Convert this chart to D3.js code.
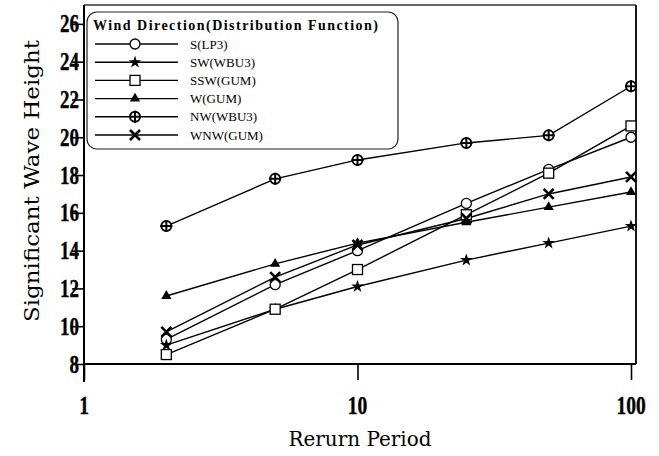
<!DOCTYPE html>
<html><head><meta charset="utf-8">
<script src="https://d3js.org/d3.v7.min.js"></script>
<style>body{margin:0;background:#fff}svg{display:block}</style>
</head><body>
<svg id="c" width="659" height="456"></svg>
<script>
const periods = [2, 5, 10, 25, 50, 100];
const seriesNames = ["S(LP3)", "SW(WBU3)", "SSW(GUM)", "W(GUM)", "NW(WBU3)", "WNW(GUM)"];
const sVals   = [9.3, 12.2, 14.0, 16.5, 18.3, 20.0];
const swVals  = [9.0, 10.9, 12.1, 13.5, 14.4, 15.3];
const sswVals = [8.5, 10.9, 13.0, 15.9, 18.1, 20.6];
const wVals   = [11.6, 13.3, 14.4, 15.5, 16.3, 17.1];
const nwVals  = [15.3, 17.8, 18.8, 19.7, 20.1, 22.7];
const wnwVals = [9.7, 12.6, 14.3, 15.7, 17.0, 17.9];
const xTicks = [1, 10, 100];
const yTicks = [8, 10, 12, 14, 16, 18, 20, 22, 24, 26];
const legendTitle = "Wind Direction(Distribution Function)";
const xTitle = "Rerurn Period";
const yTitle = "Significant Wave Height";

const series = [
  {name: seriesNames[0], vals: sVals, m: "circle"},
  {name: seriesNames[1], vals: swVals, m: "star"},
  {name: seriesNames[2], vals: sswVals, m: "square"},
  {name: seriesNames[3], vals: wVals, m: "triangle"},
  {name: seriesNames[4], vals: nwVals, m: "circplus"},
  {name: seriesNames[5], vals: wnwVals, m: "x"}
];

const svg = d3.select("#c");
const L = 84, R = 636, T = 5, B = 364;
const x = d3.scaleLog().domain([1, 100]).range([84, 631]);
const y = d3.scaleLinear().domain([8, 27]).range([B, T]);

// frame
svg.append("line").attr("x1", L).attr("x2", R).attr("y1", T).attr("y2", T).attr("stroke", "#333").attr("stroke-width", 1.5);
svg.append("line").attr("x1", R).attr("x2", R).attr("y1", T).attr("y2", B).attr("stroke", "#000").attr("stroke-width", 1.8);

// y axis
const yAx = svg.append("g").attr("transform", `translate(${L},0)`)
  .call(d3.axisLeft(y).tickValues(yTicks).tickSize(12).tickFormat(d => ""));
yAx.select(".domain").attr("stroke-width", 2).attr("d", `M0,${T}V${B + 18}`);
yAx.selectAll(".tick line").attr("stroke-width", 1.6);
yTicks.forEach(v => {
  svg.append("text").attr("transform", `translate(79,${y(v) + 8.5}) scale(0.76,1)`)
    .attr("text-anchor", "end").attr("font-family", "Liberation Serif").attr("font-weight", "bold")
    .attr("font-size", 25).attr("stroke", "#000").attr("stroke-width", 0.4).text(v);
});

// x axis
const xAx = svg.append("g").attr("transform", `translate(0,${B})`)
  .call(d3.axisBottom(x).tickValues(xTicks).tickSize(16).tickFormat(d => ""));
xAx.select(".domain").attr("stroke-width", 2).attr("d", `M${L},0H${R}`);
xAx.selectAll(".tick line").attr("stroke-width", 1.6);
xTicks.forEach(v => {
  svg.append("text").attr("transform", `translate(${x(v)},414) scale(0.78,1)`)
    .attr("text-anchor", "middle").attr("font-family", "Liberation Serif").attr("font-weight", "bold")
    .attr("font-size", 25).attr("stroke", "#000").attr("stroke-width", 0.4).text(v);
});

// titles
svg.append("text").attr("x", 360).attr("y", 446).attr("text-anchor", "middle")
  .attr("font-family", "DejaVu Serif").attr("font-size", 20).attr("textLength", 143)
  .attr("lengthAdjust", "spacingAndGlyphs").text(xTitle);
svg.append("text").attr("transform", "translate(39,181) rotate(-90)").attr("text-anchor", "middle")
  .attr("font-family", "DejaVu Serif").attr("font-size", 20).attr("textLength", 282)
  .attr("lengthAdjust", "spacingAndGlyphs").text(yTitle);

function drawMarker(g, type, cx, cy) {
  const gg = g.append("g").attr("transform", `translate(${cx},${cy})`);
  if (type === "circle") {
    gg.append("circle").attr("r", 5).attr("fill", "#fff").attr("stroke", "#000").attr("stroke-width", 1.3);
  } else if (type === "star") {
    gg.append("path").attr("d", d3.symbol(d3.symbolStar, 50)()).attr("fill", "#000");
  } else if (type === "square") {
    gg.append("rect").attr("x", -5).attr("y", -5).attr("width", 10).attr("height", 10)
      .attr("fill", "#fff").attr("stroke", "#000").attr("stroke-width", 1.3);
  } else if (type === "triangle") {
    gg.append("path").attr("d", d3.symbol(d3.symbolTriangle, 45)()).attr("fill", "#000");
  } else if (type === "circplus") {
    gg.append("circle").attr("r", 5).attr("fill", "#fff").attr("stroke", "#000").attr("stroke-width", 2);
    gg.append("path").attr("d", "M-6,0H6M0,-6V6").attr("stroke", "#000").attr("stroke-width", 2);
  } else if (type === "x") {
    gg.append("path").attr("d", "M-5,-5L5,5M-5,5L5,-5").attr("stroke", "#000").attr("stroke-width", 2.6);
  }
}

// lines
const line = d3.line().x((d, i) => x(periods[i])).y(d => y(d));
const plot = svg.append("g");
series.forEach(s => {
  plot.append("path").attr("d", line(s.vals)).attr("fill", "none").attr("stroke", "#000").attr("stroke-width", 1.4);
});
series.forEach(s => {
  s.vals.forEach((v, i) => drawMarker(plot, s.m, x(periods[i]), y(v)));
});

// legend
const lg = svg.append("g");
lg.append("rect").attr("x", 87).attr("y", 12).attr("width", 311).attr("height", 137).attr("rx", 10)
  .attr("fill", "#fff").attr("stroke", "#222").attr("stroke-width", 1.2);
lg.append("text").attr("x", 93).attr("y", 30).attr("font-family", "Liberation Serif").attr("font-weight", "bold")
  .attr("font-size", 14).attr("textLength", 285).text(legendTitle);
series.forEach((s, i) => {
  const yy = 44 + i * 18.2;
  lg.append("line").attr("x1", 95).attr("x2", 178).attr("y1", yy).attr("y2", yy).attr("stroke", "#000").attr("stroke-width", 1.4);
  drawMarker(lg, s.m, 135, yy);
  lg.append("text").attr("x", 190).attr("y", yy + 4.5).attr("font-family", "Liberation Serif")
    .attr("font-size", 13).text(s.name);
});
</script>
</body></html>
